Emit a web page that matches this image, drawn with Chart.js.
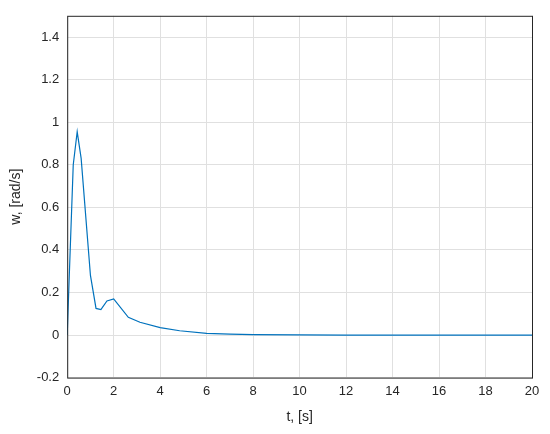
<!DOCTYPE html>
<html><head><meta charset="utf-8">
<script src="https://cdn.jsdelivr.net/npm/chart.js@4"></script>
<style>body{margin:0;background:#fff}</style>
</head><body><canvas id="c" width="550" height="434"></canvas>
<script>
// response samples
const tVals = [0, 0.08, 0.26, 0.43, 0.6, 1.0, 1.24, 1.45, 1.71, 2.0, 2.63, 3.13, 4.0, 4.84, 6, 7, 8, 10, 12, 14, 16, 18, 20];
const wVals = [0, 0.25, 0.80, 0.955, 0.83, 0.28, 0.125, 0.12, 0.16, 0.17, 0.083, 0.06, 0.035, 0.02, 0.008, 0.004, 0.002, 0.0005, 0, 0, 0, 0, 0];
const xTicks = [0,2,4,6,8,10,12,14,16,18,20];
const yTicks = [-0.2,0,0.2,0.4,0.6,0.8,1,1.2,1.4];

const font = { family: "Liberation Sans, Arial, sans-serif", size: 13 };
const boxPlugin = {
  id: "box",
  afterDraw(ch){
    const a = ch.chartArea, g = ch.ctx;
    g.save(); g.strokeStyle = "#262626"; g.lineWidth = 1;
    g.strokeRect(a.left+0.5, a.top+0.5, a.right-a.left, a.bottom-a.top);
    g.restore();
  }
};
new Chart(document.getElementById("c"), {
  type: "scatter",
  data: { datasets: [{ data: tVals.map((t,i)=>({x:t, y:wVals[i]})), showLine: true,
    borderColor: "#0072BD", borderWidth: 1.2, pointRadius: 0, tension: 0 }] },
  options: {
    responsive: false, animation: false,
    layout: { padding: { top: 10, right: 18, left: 4, bottom: 4 } },
    plugins: { legend: { display: false }, tooltip: { enabled: false } },
    scales: {
      x: { min: 0, max: 20, afterBuildTicks: s => { s.ticks = xTicks.map(v=>({value:v})); },
        grid: { color: "#e0e0e0", tickLength: 0 }, border: { display: false },
        ticks: { color: "#262626", font, padding: 6, autoSkip: false, maxRotation: 0 },
        title: { display: true, text: "t, [s]", color: "#262626", font: {...font, size: 14} } },
      y: { min: -0.2, max: 1.5, afterBuildTicks: s => { s.ticks = yTicks.map(v=>({value:v})); },
        grid: { color: "#e0e0e0", tickLength: 0 }, border: { display: false },
        ticks: { color: "#262626", font, padding: 8, autoSkip: false, callback: v => String(Math.round(v*10)/10) },
        title: { display: true, text: "w, [rad/s]", color: "#262626", font: {...font, size: 14} } }
    }
  },
  plugins: [boxPlugin]
});
</script></body></html>
